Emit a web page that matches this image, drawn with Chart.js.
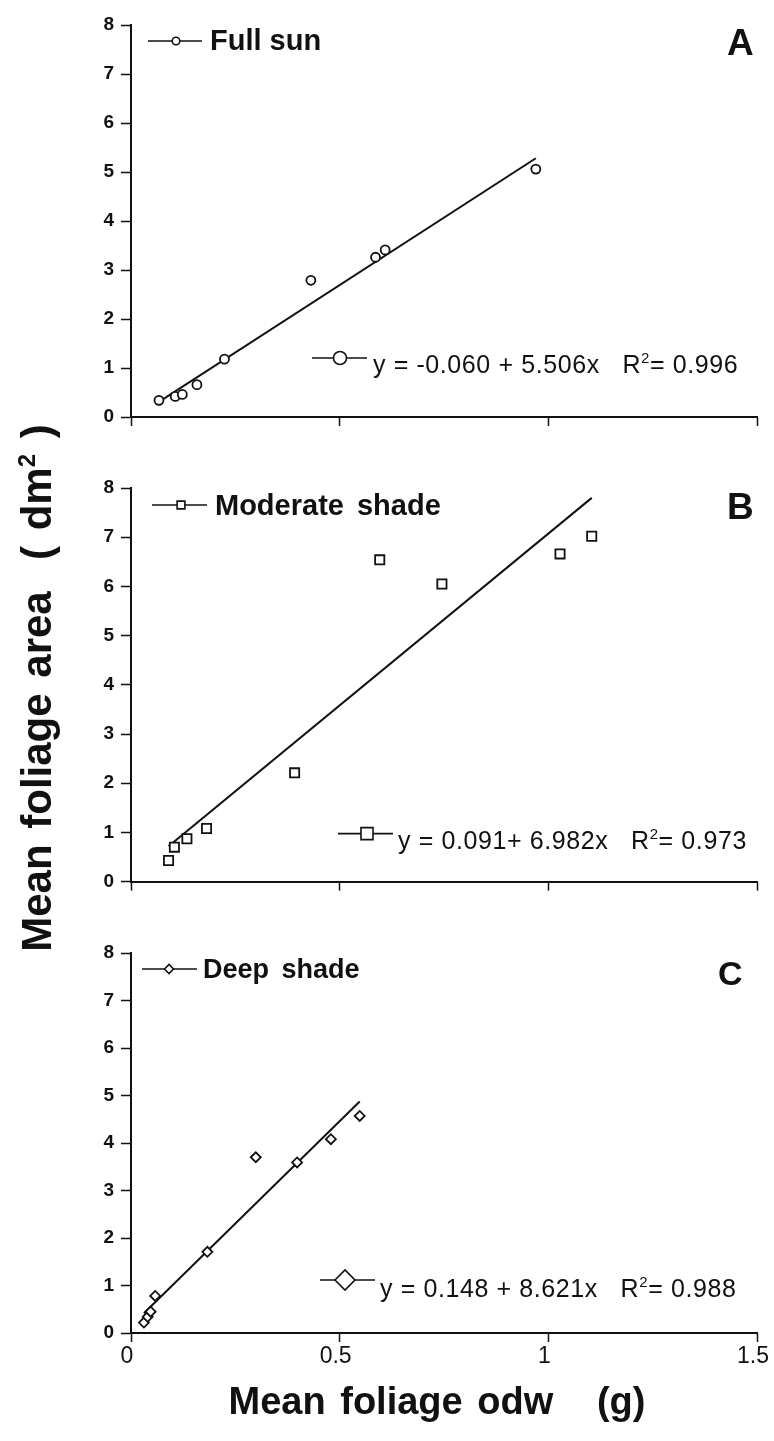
<!DOCTYPE html>
<html>
<head>
<meta charset="utf-8">
<script src="https://cdn.jsdelivr.net/npm/chart.js@4.4.0/dist/chart.umd.min.js"></script>
<style>
  html, body { margin: 0; padding: 0; background: #fff; }
  #page { position: relative; width: 774px; height: 1441px; overflow: hidden; background: #fff; }
  #page canvas { position: absolute; left: 0; }
  .axis-title {
    position: absolute;
    font-family: 'Liberation Sans', Arial, Helvetica, sans-serif;
    font-weight: bold;
    color: #111;
    white-space: nowrap;
    text-align: center;
  }
  .axis-title sup { font-size: 24px; vertical-align: 16px; line-height: 0; }
  #yTitle {
    left: -273px; top: 662px; width: 620px; height: 52px;
    line-height: 52px; font-size: 42px; word-spacing: 4px;
    transform: rotate(-90deg);
  }
  #xTitle {
    left: 187px; top: 1376px; width: 500px; height: 50px;
    line-height: 50px; font-size: 38px; word-spacing: 4px;
  }
</style>
</head>
<body>
<div id="page">
  <canvas id="panelA" width="774" height="450" style="top:0px"></canvas>
  <canvas id="panelB" width="774" height="450" style="top:450px"></canvas>
  <canvas id="panelC" width="774" height="480" style="top:900px"></canvas>
  <div id="yTitle" class="axis-title">Mean foliage area&nbsp; ( dm<sup>2</sup> )</div>
  <div id="xTitle" class="axis-title">Mean foliage odw&nbsp;&nbsp; (g)</div>
</div>
<script>
// foliage oven-dry weight (g) vs foliage area (dm2) per shade treatment
const sunOdw = [0.067, 0.106, 0.123, 0.158, 0.224, 0.431, 0.586, 0.609, 0.970];
const sunArea = [0.34, 0.42, 0.46, 0.66, 1.18, 2.79, 3.26, 3.41, 5.06];

const moderateOdw = [0.090, 0.104, 0.134, 0.181, 0.392, 0.596, 0.745, 1.028, 1.104];
const moderateArea = [0.43, 0.70, 0.87, 1.08, 2.21, 6.54, 6.05, 6.66, 7.02];

const deepOdw = [0.031, 0.040, 0.047, 0.058, 0.183, 0.299, 0.398, 0.479, 0.548];
const deepArea = [0.22, 0.34, 0.45, 0.78, 1.71, 3.70, 3.59, 4.08, 4.57];

const treatments = ['Full sun', 'Moderate shade', 'Deep shade'];
const panelLetters = ['A', 'B', 'C'];

// fitted lines y = a + b x
const intercepts = [-0.060, 0.091, 0.148];
const slopes = [5.506, 6.982, 8.621];
const rSquared = [0.996, 0.973, 0.988];
const plusSigns = [' + ', '+ ', ' + '];

const xTickValues = [0, 0.5, 1, 1.5];
const yTickValues = [0, 1, 2, 3, 4, 5, 6, 7, 8];

const INK = '#111';
const FONT = "'Liberation Sans', Arial, Helvetica, sans-serif";

// where the legend bits sit, in px from the plot area corners
const panelLayouts = [
  { canvas: 'panelA', padTop: 25, xHeight: 33, tickLabels: false, marker: 'circle', pointRadius: 4.5,
    key: { x1: 17, x2: 71, xm: 45, dy: 16, r: 3.8, tx: 79, ty: 25, font: 'bold 29px', gap: '0px' },
    letter: { x: 596, y: 30, font: 'bold 37px' },
    eq: { x1: 181, x2: 236, xm: 209, dy: 59, r: 6.5, tx: 242, ty: 44 } },
  { canvas: 'panelB', padTop: 38, xHeight: 17, tickLabels: false, marker: 'rect', pointRadius: 6.5,
    key: { x1: 21, x2: 76, xm: 50, dy: 17, r: 5.5, tx: 84, ty: 27, font: 'bold 29px', gap: '5px' },
    letter: { x: 596, y: 31, font: 'bold 37px' },
    eq: { x1: 207, x2: 262, xm: 236, dy: 48, r: 8.5, tx: 267, ty: 33 } },
  { canvas: 'panelC', padTop: 53, xHeight: 47, tickLabels: true, marker: 'rectRot', pointRadius: 5,
    key: { x1: 11, x2: 66, xm: 38, dy: 16, r: 4.5, tx: 72, ty: 25, font: 'bold 27px', gap: '5px' },
    letter: { x: 587, y: 32, font: 'bold 34px' },
    eq: { x1: 189, x2: 244, xm: 214, dy: 53, r: 10, tx: 249, ty: 36 } }
];

const seriesX = [sunOdw, moderateOdw, deepOdw];
const seriesY = [sunArea, moderateArea, deepArea];

function drawSample(ctx, left, y, spec, style) {
  ctx.save();
  ctx.strokeStyle = INK;
  ctx.lineWidth = 1.6;
  ctx.beginPath();
  ctx.moveTo(left + spec.x1, y);
  ctx.lineTo(left + spec.x2, y);
  ctx.stroke();
  ctx.fillStyle = '#fff';
  Chart.helpers.drawPoint(ctx, { pointStyle: style, radius: spec.r, borderWidth: 1.6, rotation: 0 }, left + spec.xm, y);
  ctx.restore();
}

const panelDecor = {
  id: 'panelDecor',
  afterDatasetsDraw(chart, args, opts) {
    const { ctx, chartArea } = chart;
    const lay = opts.layout;
    const i = opts.index;
    const left = chartArea.left;

    // series key at top left
    drawSample(ctx, left, chartArea.top + lay.key.dy, lay.key, lay.marker);
    ctx.save();
    ctx.fillStyle = INK;
    ctx.textBaseline = 'alphabetic';
    ctx.font = `${lay.key.font} ${FONT}`;
    if ('wordSpacing' in ctx) ctx.wordSpacing = lay.key.gap;
    ctx.fillText(treatments[i], left + lay.key.tx, chartArea.top + lay.key.ty);
    if ('wordSpacing' in ctx) ctx.wordSpacing = '0px';

    // panel letter
    ctx.font = `${lay.letter.font} ${FONT}`;
    ctx.fillText(panelLetters[i], left + lay.letter.x, chartArea.top + lay.letter.y);
    ctx.restore();

    // regression key and equation
    drawSample(ctx, left, chartArea.bottom - lay.eq.dy, lay.eq, lay.marker);
    const a = intercepts[i];
    const eqText = `y = ${a.toFixed(3)}${plusSigns[i]}${slopes[i].toFixed(3)}x`;
    ctx.save();
    ctx.fillStyle = INK;
    if ('letterSpacing' in ctx) ctx.letterSpacing = '0.6px';
    ctx.font = `25px ${FONT}`;
    let x = left + lay.eq.tx;
    const base = chartArea.bottom - lay.eq.ty;
    ctx.fillText(eqText, x, base);
    x += ctx.measureText(eqText + '   ').width;
    ctx.fillText('R', x, base);
    x += ctx.measureText('R').width;
    ctx.font = `15px ${FONT}`;
    ctx.fillText('2', x, base - 10);
    x += ctx.measureText('2').width;
    ctx.font = `25px ${FONT}`;
    ctx.fillText(`= ${rSquared[i].toFixed(3)}`, x, base);
    ctx.restore();
  }
};

function createPanel(i) {
  const lay = panelLayouts[i];
  const xs = seriesX[i];
  const ys = seriesY[i];
  const points = xs.map((v, k) => ({ x: v, y: ys[k] }));
  const x0 = Math.min(...xs);
  const x1 = Math.max(...xs);
  const fit = [x0, x1].map(v => ({ x: v, y: intercepts[i] + slopes[i] * v }));

  return new Chart(document.getElementById(lay.canvas), {
    type: 'scatter',
    data: {
      datasets: [{
        label: treatments[i],
        data: points,
        pointStyle: lay.marker,
        pointRadius: lay.pointRadius,
        pointBorderWidth: 1.8,
        pointBorderColor: INK,
        pointBackgroundColor: '#fff',
        showLine: false
      },
      {
        label: 'fit',
        data: fit,
        showLine: true,
        borderColor: INK,
        borderWidth: 2,
        pointRadius: 0
      }]
    },
    plugins: [panelDecor],
    options: {
      responsive: false,
      animation: false,
      events: [],
      layout: { padding: { top: lay.padTop, right: 17, left: 0, bottom: 0 } },
      plugins: {
        legend: { display: false },
        tooltip: { enabled: false },
        panelDecor: { index: i, layout: lay }
      },
      scales: {
        x: {
          type: 'linear',
          min: 0,
          max: 1.5,
          afterBuildTicks: s => { s.ticks = xTickValues.map(v => ({ value: v })); },
          afterFit: s => { s.height = lay.xHeight; },
          border: { display: true, color: INK, width: 2 },
          grid: { drawOnChartArea: false, drawTicks: true, tickLength: 9, tickWidth: 1.5, tickColor: INK },
          ticks: {
            maxRotation: 0,
            padding: 1,
            labelOffset: -4,
            color: INK,
            font: { family: FONT, size: 23 },
            callback: v => lay.tickLabels ? String(v) : ''
          }
        },
        y: {
          type: 'linear',
          min: 0,
          max: 8,
          afterBuildTicks: s => { s.ticks = yTickValues.map(v => ({ value: v })); },
          afterFit: s => { s.width = 131; },
          border: { display: true, color: INK, width: 2 },
          grid: { drawOnChartArea: false, drawTicks: true, tickLength: 10, tickWidth: 1.5, tickColor: INK },
          ticks: {
            padding: 7,
            color: INK,
            font: { family: FONT, size: 19, weight: 'bold' }
          }
        }
      }
    }
  });
}

panelLayouts.forEach((_, i) => createPanel(i));
</script>
</body>
</html>
